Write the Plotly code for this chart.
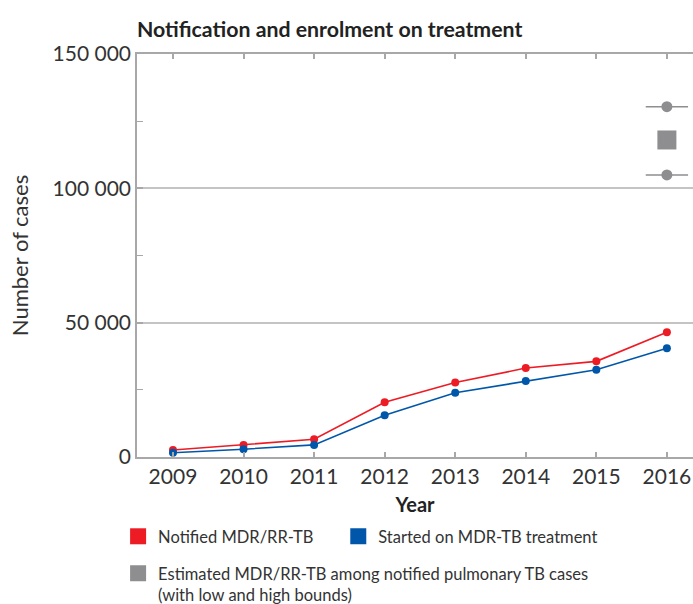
import plotly.graph_objects as go

years = [2009, 2010, 2011, 2012, 2013, 2014, 2015, 2016]
notified = [2600, 4500, 6600, 20400, 27700, 33100, 35600, 46400]
started = [1600, 2900, 4500, 15500, 23900, 28300, 32500, 40500]
est_year = [2016]
est_best = [118000]
est_low = [105000]
est_high = [130400]

RED = "#ED1C24"
BLUE = "#0057AA"
GRAY = "#8E8E91"
AX = "#A8A8A8"
FONT = "Lato"

fig = go.Figure()

fig.add_trace(go.Scatter(x=years, y=notified, mode="lines+markers",
                         line=dict(color=RED, width=1.6),
                         marker=dict(color=RED, size=8), showlegend=False))
fig.add_trace(go.Scatter(x=years, y=started, mode="lines+markers",
                         line=dict(color=BLUE, width=1.6),
                         marker=dict(color=BLUE, size=8), showlegend=False))
# bounds
fig.add_trace(go.Scatter(x=est_year * 2, y=est_low + est_high, mode="markers",
                         marker=dict(color=GRAY, size=11),
                         error_x=dict(type="constant", value=0.3, width=0,
                                      color=GRAY, thickness=1.5),
                         showlegend=False))
fig.add_trace(go.Scatter(x=est_year, y=est_best, mode="markers",
                         marker=dict(color=GRAY, size=19, symbol="square"),
                         showlegend=False))

# legend entries (one legend each, for exact placement)
legend_names = ["Notified MDR/RR-TB", "Started on MDR-TB treatment",
                "Estimated MDR/RR-TB among notified pulmonary TB cases<br>(with low and high bounds)"]
legend_refs = ["legend", "legend2", "legend3"]
for name, col, lg in zip(legend_names, [RED, BLUE, GRAY], legend_refs):
    fig.add_trace(go.Scatter(x=[None], y=[None], mode="markers", name=name, legend=lg,
                             marker=dict(color=col, size=16, symbol="square")))

leg_common = dict(orientation="h", xanchor="left", yanchor="top", valign="top",
                  font=dict(family=FONT, size=16.5, color="#333333"),
                  itemsizing="trace", bgcolor="rgba(0,0,0,0)")

fig.update_layout(
    width=693, height=604,
    margin=dict(l=137, r=0, t=54, b=147, autoexpand=False),
    paper_bgcolor="white", plot_bgcolor="white",
    font=dict(family=FONT, size=21, color="#333333"),
    title=dict(text="<b>Notification and enrolment on treatment</b>",
               x=137 / 693, xanchor="left", xref="container",
               y=1 - 30 / 604, yanchor="middle", yref="container",
               font=dict(family=FONT, size=21.3, color="#222222")),
    xaxis=dict(range=[2008.49, 2016.37], tickmode="array", tickvals=years,
               ticktext=[str(y) for y in years], automargin=False,
               showline=True, linecolor=AX, linewidth=1.5, mirror="ticks",
               ticks="inside", ticklen=5, tickcolor=AX, tickwidth=1.5,
               showgrid=False, zeroline=False,
               title=dict(text="<b>Year</b>", font=dict(size=20, color="#222222"), standoff=11)),
    yaxis=dict(range=[0, 150000], tickvals=[0, 50000, 100000, 150000],
               ticktext=["0", "50 000", "100 000", "150 000"], automargin=False,
               showline=True, linecolor=AX, linewidth=1.5,
               ticks="inside", ticklen=6, tickcolor=AX, tickwidth=1.5,
               minor=dict(dtick=25000, ticks="inside", ticklen=6, tickcolor=AX, tickwidth=1.2, showgrid=False),
               showgrid=True, gridcolor="#C4C4C4", gridwidth=1.5,
               zeroline=False,
               title=dict(text="Number of cases", font=dict(size=22, color="#333333"), standoff=18)),
    legend=dict(x=-0.034, y=-0.154, **leg_common),
    legend2=dict(x=0.362, y=-0.154, **leg_common),
    legend3=dict(x=-0.034, y=-0.246, **leg_common),
)

fig.write_html("out.html", config={"displayModeBar": False},
               post_script="document.body.style.margin='0';document.body.style.padding='0';")
